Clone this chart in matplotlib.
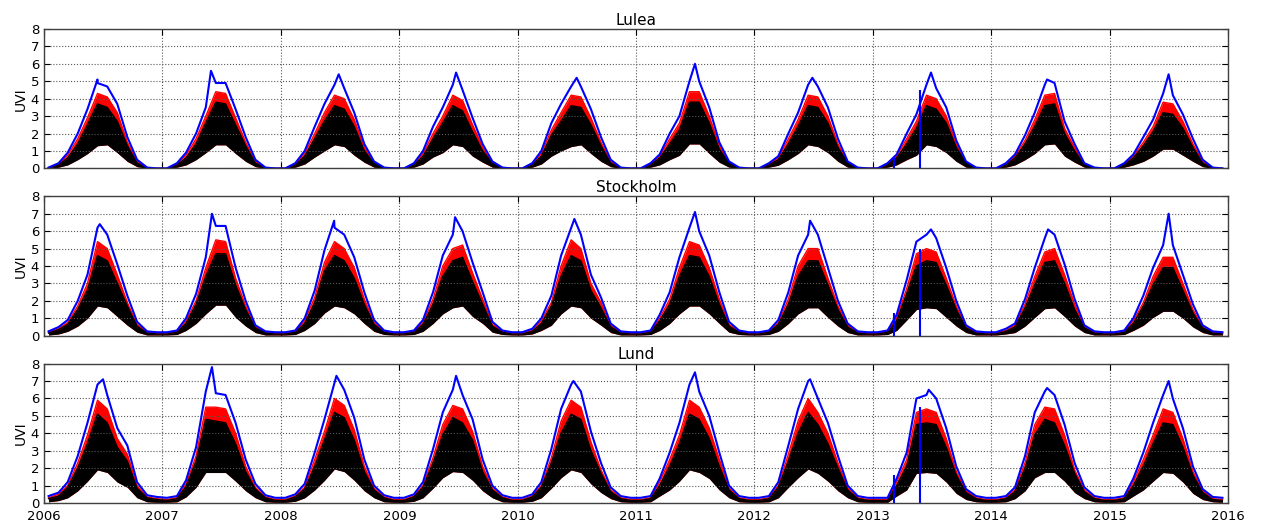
import numpy as np
import matplotlib
matplotlib.use("Agg")
import matplotlib.pyplot as plt
import matplotlib.dates as mdates

# monthly (mid-month) values, one row per year 2006..2015
years = list(range(2006, 2016))
stations = ["Lulea", "Stockholm", "Lund"]

lulea_blue = [
    [0.05, 0.3, 0.9, 2.0, 3.4, 4.9, 4.7, 3.7, 1.8, 0.5, 0.05, 0.0],
    [0.0, 0.3, 0.9, 2.0, 3.5, 4.9, 4.9, 3.4, 1.8, 0.5, 0.05, 0.0],
    [0.0, 0.3, 1.0, 2.4, 3.7, 4.8, 4.6, 3.2, 1.4, 0.4, 0.05, 0.0],
    [0.0, 0.3, 1.0, 2.4, 3.5, 4.8, 4.5, 2.9, 1.4, 0.4, 0.05, 0.0],
    [0.0, 0.3, 1.0, 2.6, 3.7, 4.7, 4.7, 3.4, 1.8, 0.5, 0.05, 0.0],
    [0.0, 0.3, 0.8, 2.0, 3.0, 5.0, 5.0, 3.5, 1.5, 0.4, 0.05, 0.0],
    [0.0, 0.3, 0.7, 2.0, 3.2, 4.8, 4.7, 3.5, 1.7, 0.4, 0.05, 0.0],
    [0.0, 0.3, 0.8, 2.0, 3.1, 4.8, 4.6, 3.5, 1.6, 0.4, 0.05, 0.0],
    [0.0, 0.3, 0.8, 1.9, 3.2, 4.8, 4.9, 2.7, 1.4, 0.3, 0.05, 0.0],
    [0.0, 0.3, 0.8, 1.8, 2.8, 4.3, 4.2, 3.1, 1.7, 0.5, 0.05, 0.0],
]
lulea_red = [
    [0.03, 0.25, 0.75, 1.7, 2.9, 4.3, 4.1, 3.2, 1.5, 0.4, 0.03, 0.0],
    [0.0, 0.25, 0.75, 1.7, 3.0, 4.4, 4.3, 2.9, 1.5, 0.4, 0.03, 0.0],
    [0.0, 0.25, 0.85, 2.0, 3.2, 4.2, 4.0, 2.8, 1.2, 0.35, 0.03, 0.0],
    [0.0, 0.25, 0.85, 2.0, 3.0, 4.2, 3.9, 2.5, 1.2, 0.35, 0.03, 0.0],
    [0.0, 0.25, 0.85, 2.2, 3.2, 4.2, 4.1, 2.9, 1.5, 0.4, 0.03, 0.0],
    [0.0, 0.25, 0.7, 1.7, 2.6, 4.4, 4.4, 3.0, 1.3, 0.35, 0.03, 0.0],
    [0.0, 0.25, 0.6, 1.7, 2.8, 4.2, 4.1, 3.0, 1.4, 0.35, 0.03, 0.0],
    [0.0, 0.25, 0.7, 1.7, 2.7, 4.2, 4.0, 3.0, 1.4, 0.35, 0.03, 0.0],
    [0.0, 0.25, 0.7, 1.6, 2.8, 4.2, 4.3, 2.3, 1.2, 0.25, 0.03, 0.0],
    [0.0, 0.25, 0.7, 1.5, 2.4, 3.8, 3.7, 2.7, 1.4, 0.4, 0.03, 0.0],
]
lulea_black_hi = [
    [0.02, 0.2, 0.6, 1.4, 2.5, 3.7, 3.5, 2.7, 1.3, 0.3, 0.02, 0.0],
    [0.0, 0.2, 0.6, 1.4, 2.6, 3.8, 3.7, 2.5, 1.3, 0.3, 0.02, 0.0],
    [0.0, 0.2, 0.7, 1.7, 2.7, 3.6, 3.4, 2.4, 1.0, 0.3, 0.02, 0.0],
    [0.0, 0.2, 0.7, 1.7, 2.6, 3.6, 3.3, 2.1, 1.0, 0.3, 0.02, 0.0],
    [0.0, 0.2, 0.7, 1.9, 2.7, 3.6, 3.5, 2.5, 1.3, 0.3, 0.02, 0.0],
    [0.0, 0.2, 0.6, 1.4, 2.2, 3.8, 3.8, 2.6, 1.1, 0.3, 0.02, 0.0],
    [0.0, 0.2, 0.5, 1.4, 2.4, 3.6, 3.5, 2.6, 1.2, 0.3, 0.02, 0.0],
    [0.0, 0.2, 0.6, 1.4, 2.3, 3.6, 3.4, 2.6, 1.2, 0.3, 0.02, 0.0],
    [0.0, 0.2, 0.6, 1.4, 2.4, 3.6, 3.7, 2.0, 1.0, 0.2, 0.02, 0.0],
    [0.0, 0.2, 0.6, 1.3, 2.1, 3.2, 3.1, 2.3, 1.2, 0.3, 0.02, 0.0],
]
lulea_black_lo = [
    [0.0, 0.07, 0.2, 0.5, 0.85, 1.3, 1.35, 0.9, 0.4, 0.1, 0.0, 0.0],
    [0.0, 0.07, 0.2, 0.5, 0.9, 1.35, 1.35, 0.85, 0.4, 0.1, 0.0, 0.0],
    [0.0, 0.07, 0.25, 0.65, 1.0, 1.35, 1.25, 0.75, 0.35, 0.07, 0.0, 0.0],
    [0.0, 0.07, 0.25, 0.65, 0.9, 1.35, 1.25, 0.7, 0.35, 0.07, 0.0, 0.0],
    [0.0, 0.07, 0.25, 0.7, 1.0, 1.25, 1.35, 0.85, 0.4, 0.1, 0.0, 0.0],
    [0.0, 0.07, 0.2, 0.5, 0.75, 1.4, 1.4, 0.85, 0.35, 0.07, 0.0, 0.0],
    [0.0, 0.07, 0.18, 0.5, 0.85, 1.35, 1.25, 0.9, 0.4, 0.07, 0.0, 0.0],
    [0.0, 0.07, 0.2, 0.5, 0.75, 1.35, 1.25, 0.9, 0.4, 0.07, 0.0, 0.0],
    [0.0, 0.07, 0.2, 0.5, 0.85, 1.35, 1.4, 0.7, 0.35, 0.07, 0.0, 0.0],
    [0.0, 0.07, 0.2, 0.4, 0.7, 1.1, 1.1, 0.75, 0.4, 0.1, 0.0, 0.0],
]

stockholm_blue = [
    [0.25, 0.5, 0.9, 2.0, 3.5, 6.2, 5.8, 4.1, 2.3, 0.8, 0.25, 0.2],
    [0.2, 0.3, 1.0, 2.4, 4.5, 6.3, 6.3, 3.9, 2.0, 0.6, 0.25, 0.2],
    [0.2, 0.3, 1.0, 2.6, 4.9, 6.2, 5.8, 4.5, 2.5, 0.9, 0.3, 0.2],
    [0.2, 0.3, 0.9, 2.5, 4.6, 5.8, 6.0, 4.2, 2.5, 0.8, 0.3, 0.2],
    [0.2, 0.4, 1.0, 2.3, 4.6, 6.2, 5.8, 3.5, 2.2, 0.7, 0.25, 0.2],
    [0.2, 0.3, 1.2, 2.5, 4.5, 6.2, 6.0, 4.6, 2.5, 0.8, 0.3, 0.2],
    [0.2, 0.3, 0.9, 2.5, 4.6, 5.8, 5.8, 3.9, 2.0, 0.7, 0.25, 0.2],
    [0.2, 0.3, 1.2, 3.2, 5.4, 5.8, 5.6, 3.9, 2.0, 0.6, 0.25, 0.2],
    [0.2, 0.4, 0.7, 2.1, 3.9, 5.6, 5.8, 4.1, 2.1, 0.6, 0.25, 0.2],
    [0.2, 0.3, 1.0, 2.3, 3.9, 5.2, 5.2, 3.5, 1.8, 0.6, 0.25, 0.2],
]
stockholm_red = [
    [0.2, 0.4, 0.75, 1.7, 3.0, 5.4, 5.0, 3.5, 1.9, 0.65, 0.2, 0.15],
    [0.15, 0.25, 0.85, 2.0, 3.9, 5.5, 5.4, 3.3, 1.7, 0.5, 0.2, 0.15],
    [0.15, 0.25, 0.85, 2.2, 4.2, 5.4, 5.0, 3.9, 2.1, 0.75, 0.25, 0.15],
    [0.15, 0.25, 0.75, 2.1, 4.0, 5.0, 5.2, 3.6, 2.1, 0.65, 0.25, 0.15],
    [0.15, 0.3, 0.85, 1.9, 4.0, 5.5, 5.0, 3.0, 1.9, 0.6, 0.2, 0.15],
    [0.15, 0.25, 1.0, 2.1, 3.9, 5.4, 5.2, 3.9, 2.1, 0.65, 0.25, 0.15],
    [0.15, 0.25, 0.75, 2.1, 4.0, 5.0, 5.0, 3.3, 1.7, 0.6, 0.2, 0.15],
    [0.15, 0.25, 1.0, 2.7, 4.7, 5.0, 4.8, 3.3, 1.7, 0.5, 0.2, 0.15],
    [0.15, 0.3, 0.6, 1.8, 3.4, 4.8, 5.0, 3.5, 1.8, 0.5, 0.2, 0.15],
    [0.15, 0.25, 0.85, 1.9, 3.4, 4.5, 4.5, 3.0, 1.5, 0.5, 0.2, 0.15],
]
stockholm_black_hi = [
    [0.15, 0.35, 0.65, 1.5, 2.6, 4.6, 4.3, 3.0, 1.7, 0.55, 0.15, 0.1],
    [0.1, 0.2, 0.7, 1.8, 3.4, 4.7, 4.7, 2.9, 1.5, 0.45, 0.15, 0.1],
    [0.1, 0.2, 0.7, 1.9, 3.7, 4.6, 4.3, 3.3, 1.8, 0.65, 0.2, 0.1],
    [0.1, 0.2, 0.65, 1.8, 3.4, 4.3, 4.5, 3.1, 1.8, 0.55, 0.2, 0.1],
    [0.1, 0.25, 0.7, 1.7, 3.4, 4.6, 4.3, 2.6, 1.6, 0.5, 0.15, 0.1],
    [0.1, 0.2, 0.85, 1.8, 3.4, 4.6, 4.5, 3.4, 1.8, 0.55, 0.2, 0.1],
    [0.1, 0.2, 0.65, 1.8, 3.4, 4.3, 4.3, 2.9, 1.5, 0.5, 0.15, 0.1],
    [0.1, 0.2, 0.85, 2.4, 4.0, 4.3, 4.2, 2.9, 1.5, 0.45, 0.15, 0.1],
    [0.1, 0.25, 0.5, 1.6, 2.9, 4.2, 4.3, 3.0, 1.5, 0.45, 0.15, 0.1],
    [0.1, 0.2, 0.7, 1.7, 2.9, 3.9, 3.9, 2.6, 1.3, 0.45, 0.15, 0.1],
]
stockholm_black_lo = [
    [0.04, 0.1, 0.25, 0.55, 1.0, 1.7, 1.6, 1.1, 0.6, 0.2, 0.04, 0.04],
    [0.04, 0.07, 0.3, 0.7, 1.25, 1.75, 1.75, 1.05, 0.55, 0.18, 0.04, 0.04],
    [0.04, 0.07, 0.3, 0.7, 1.3, 1.7, 1.6, 1.25, 0.7, 0.25, 0.07, 0.04],
    [0.04, 0.07, 0.25, 0.7, 1.25, 1.6, 1.7, 1.1, 0.7, 0.2, 0.07, 0.04],
    [0.04, 0.1, 0.3, 0.6, 1.25, 1.7, 1.6, 1.0, 0.6, 0.18, 0.04, 0.04],
    [0.04, 0.07, 0.3, 0.7, 1.25, 1.7, 1.7, 1.25, 0.7, 0.2, 0.07, 0.04],
    [0.04, 0.07, 0.25, 0.7, 1.25, 1.6, 1.6, 1.05, 0.55, 0.18, 0.04, 0.04],
    [0.04, 0.07, 0.3, 0.9, 1.5, 1.6, 1.55, 1.05, 0.55, 0.18, 0.04, 0.04],
    [0.04, 0.1, 0.18, 0.55, 1.05, 1.55, 1.6, 1.1, 0.55, 0.18, 0.04, 0.04],
    [0.04, 0.07, 0.3, 0.6, 1.05, 1.4, 1.4, 1.0, 0.5, 0.18, 0.04, 0.04],
]

lund_blue = [
    [0.4, 0.6, 1.2, 2.7, 4.6, 6.8, 6.2, 4.3, 3.3, 1.2, 0.45, 0.35],
    [0.3, 0.4, 1.3, 3.2, 6.4, 6.3, 6.2, 4.6, 2.5, 1.1, 0.45, 0.3],
    [0.3, 0.5, 1.1, 2.9, 4.8, 6.9, 6.5, 4.9, 2.5, 1.0, 0.45, 0.3],
    [0.3, 0.5, 1.2, 3.1, 5.2, 6.5, 6.2, 4.8, 2.5, 1.0, 0.45, 0.3],
    [0.3, 0.5, 1.2, 3.1, 5.4, 6.8, 6.4, 4.1, 2.3, 0.9, 0.4, 0.3],
    [0.3, 0.4, 1.4, 2.9, 4.6, 6.8, 6.4, 5.0, 2.9, 1.0, 0.4, 0.3],
    [0.3, 0.4, 1.2, 3.3, 5.4, 7.0, 6.0, 4.6, 2.7, 1.0, 0.4, 0.3],
    [0.3, 0.3, 1.4, 2.9, 6.0, 6.2, 6.0, 4.3, 2.1, 0.8, 0.4, 0.3],
    [0.3, 0.4, 0.9, 2.7, 5.2, 6.4, 6.2, 4.5, 2.3, 0.9, 0.4, 0.3],
    [0.3, 0.4, 1.4, 2.9, 4.6, 6.2, 6.0, 4.3, 2.1, 0.8, 0.35, 0.3],
]
lund_red = [
    [0.3, 0.5, 1.0, 2.3, 3.9, 5.9, 5.4, 3.7, 2.8, 1.0, 0.35, 0.25],
    [0.2, 0.3, 1.1, 2.7, 5.5, 5.5, 5.4, 4.0, 2.1, 0.9, 0.35, 0.2],
    [0.2, 0.4, 0.9, 2.5, 4.1, 6.0, 5.6, 4.2, 2.1, 0.85, 0.35, 0.2],
    [0.2, 0.4, 1.0, 2.6, 4.5, 5.6, 5.4, 4.1, 2.1, 0.85, 0.35, 0.2],
    [0.2, 0.4, 1.0, 2.6, 4.7, 5.9, 5.5, 3.5, 1.9, 0.75, 0.3, 0.2],
    [0.2, 0.3, 1.2, 2.5, 3.9, 5.9, 5.5, 4.3, 2.5, 0.85, 0.3, 0.2],
    [0.2, 0.3, 1.0, 2.8, 4.7, 6.0, 5.2, 4.0, 2.3, 0.85, 0.3, 0.2],
    [0.2, 0.2, 1.2, 2.5, 5.2, 5.4, 5.2, 3.7, 1.8, 0.7, 0.3, 0.2],
    [0.2, 0.3, 0.75, 2.3, 4.5, 5.5, 5.4, 3.9, 1.9, 0.75, 0.3, 0.2],
    [0.2, 0.3, 1.2, 2.5, 3.9, 5.4, 5.2, 3.7, 1.8, 0.7, 0.25, 0.2],
]
lund_black_hi = [
    [0.25, 0.4, 0.9, 2.0, 3.4, 5.1, 4.6, 3.2, 2.4, 0.85, 0.3, 0.2],
    [0.15, 0.25, 0.95, 2.4, 4.8, 4.7, 4.6, 3.4, 1.8, 0.8, 0.3, 0.15],
    [0.15, 0.35, 0.8, 2.1, 3.6, 5.2, 4.9, 3.6, 1.8, 0.75, 0.3, 0.15],
    [0.15, 0.35, 0.9, 2.3, 3.9, 4.9, 4.6, 3.6, 1.8, 0.75, 0.3, 0.15],
    [0.15, 0.35, 0.9, 2.3, 4.0, 5.1, 4.8, 3.0, 1.7, 0.65, 0.25, 0.15],
    [0.15, 0.25, 1.0, 2.1, 3.4, 5.1, 4.8, 3.7, 2.1, 0.75, 0.25, 0.15],
    [0.15, 0.25, 0.9, 2.4, 4.0, 5.2, 4.5, 3.4, 2.0, 0.75, 0.25, 0.15],
    [0.15, 0.15, 1.0, 2.1, 4.5, 4.6, 4.5, 3.2, 1.6, 0.6, 0.25, 0.15],
    [0.15, 0.25, 0.65, 2.0, 3.9, 4.8, 4.6, 3.3, 1.7, 0.65, 0.25, 0.15],
    [0.15, 0.25, 1.0, 2.1, 3.4, 4.6, 4.5, 3.2, 1.6, 0.6, 0.2, 0.15],
]
lund_black_lo = [
    [0.07, 0.14, 0.3, 0.7, 1.25, 1.9, 1.75, 1.2, 0.9, 0.3, 0.07, 0.04],
    [0.04, 0.07, 0.35, 0.9, 1.75, 1.75, 1.75, 1.25, 0.7, 0.3, 0.07, 0.04],
    [0.04, 0.1, 0.3, 0.75, 1.3, 1.95, 1.8, 1.3, 0.7, 0.3, 0.07, 0.04],
    [0.04, 0.1, 0.3, 0.85, 1.45, 1.8, 1.75, 1.3, 0.7, 0.3, 0.07, 0.04],
    [0.04, 0.1, 0.3, 0.85, 1.45, 1.9, 1.75, 1.1, 0.6, 0.25, 0.07, 0.04],
    [0.04, 0.07, 0.4, 0.75, 1.25, 1.9, 1.75, 1.4, 0.75, 0.3, 0.07, 0.04],
    [0.04, 0.07, 0.3, 0.9, 1.45, 1.95, 1.7, 1.25, 0.7, 0.3, 0.07, 0.04],
    [0.04, 0.04, 0.4, 0.75, 1.7, 1.75, 1.7, 1.2, 0.55, 0.2, 0.07, 0.04],
    [0.04, 0.07, 0.25, 0.7, 1.45, 1.75, 1.75, 1.25, 0.6, 0.25, 0.07, 0.04],
    [0.04, 0.07, 0.4, 0.75, 1.25, 1.75, 1.7, 1.2, 0.55, 0.2, 0.07, 0.04],
]

# yearly clear-sky peak (day of year, UVI) for each station
lulea_peak_day = [165, 150, 179, 175, 182, 182, 179, 179, 172, 182]
lulea_peak_val = [5.1, 5.6, 5.4, 5.5, 5.2, 6.0, 5.2, 5.5, 5.1, 5.4]
stockholm_peak_day = [172, 153, 165, 172, 175, 182, 172, 179, 175, 182]
stockholm_peak_val = [6.4, 7.0, 6.6, 6.8, 6.7, 7.1, 6.6, 6.1, 6.1, 7.0]
lund_peak_day = [182, 153, 172, 175, 172, 182, 172, 172, 172, 182]
lund_peak_val = [7.1, 7.8, 7.3, 7.3, 7.0, 7.5, 7.1, 6.5, 6.6, 7.0]

# dropouts in the clear-sky series (drawn down to zero)
gap_dates = ["2013-03-07", "2013-05-27"]
lulea_gap_top = [0.6, 4.5]
stockholm_gap_top = [1.3, 5.0]
lund_gap_top = [1.6, 5.5]

data = {
    "Lulea": (lulea_blue, lulea_red, lulea_black_hi, lulea_black_lo,
              lulea_peak_day, lulea_peak_val, lulea_gap_top),
    "Stockholm": (stockholm_blue, stockholm_red, stockholm_black_hi, stockholm_black_lo,
                  stockholm_peak_day, stockholm_peak_val, stockholm_gap_top),
    "Lund": (lund_blue, lund_red, lund_black_hi, lund_black_lo,
             lund_peak_day, lund_peak_val, lund_gap_top),
}

month_dates = np.array([np.datetime64(f"{y}-{m:02d}-15") for y in years for m in range(1, 13)])

fig, axes = plt.subplots(3, 1, figsize=(12.61, 5.24), dpi=100, sharex=True)
fig.subplots_adjust(left=0.0349, right=0.9738, top=0.9447, bottom=0.040, hspace=0.2)

for ax, name in zip(axes, stations):
    blue, red, bhi, blo, pday, pval, gtop = data[name]
    blue = np.ravel(blue)
    red = np.ravel(red)
    bhi = np.ravel(bhi)
    blo = np.ravel(blo)

    # merge the yearly peaks into the clear-sky curve
    pdates = np.array([np.datetime64(f"{y}-01-01") + np.timedelta64(d, "D") for y, d in zip(years, pday)])
    bdates = np.concatenate([month_dates, pdates])
    bvals = np.concatenate([blue, pval])
    order = np.argsort(bdates)
    bdates = bdates[order].astype("datetime64[D]").astype(object)
    bvals = bvals[order]

    x = month_dates.astype("datetime64[D]").astype(object)
    ax.fill_between(x, blo, red, color="red", lw=0)
    ax.plot(x, red, color="red", lw=1)
    ax.fill_between(x, blo, bhi, color="black", lw=0)
    ax.plot(x, bhi, color="black", lw=1)
    ax.plot(bdates, bvals, color="blue", lw=1.5)
    gd = np.array(gap_dates, dtype="datetime64[D]").astype(object)
    ax.vlines(gd, 0, gtop, color="blue", lw=1.5)

    ax.set_title(name, fontsize=11, pad=3)
    ax.set_ylabel("UVI", fontsize=10, labelpad=2)
    ax.set_ylim(0, 8)
    ax.set_yticks(range(0, 9))
    ax.grid(True, linestyle=":", color="0.35", lw=0.8)
    ax.tick_params(direction="in", top=True, right=True, labelsize=9.5, length=4)
    for s in ax.spines.values():
        s.set_color("0.25")
        s.set_linewidth(1.0)

axes[-1].set_xlim(np.datetime64("2006-01-01").astype(object), np.datetime64("2016-01-01").astype(object))
axes[-1].xaxis.set_major_locator(mdates.YearLocator())
axes[-1].xaxis.set_major_formatter(mdates.DateFormatter("%Y"))
axes[-1].tick_params(axis="x", pad=5)

fig.savefig("out.png", dpi=100)
